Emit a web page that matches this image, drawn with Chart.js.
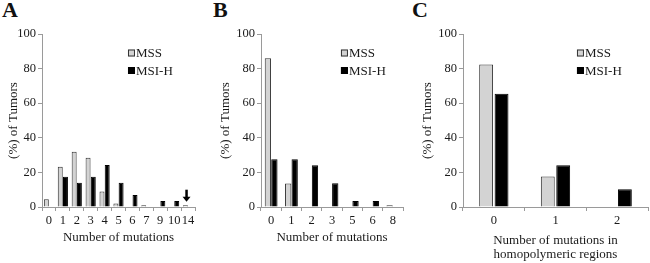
<!DOCTYPE html>
<html>
<head>
<meta charset="utf-8">
<script src="https://cdn.jsdelivr.net/npm/chart.js@4"></script>
<style>
  body { margin: 0; background: #fff; }
  #wrap { position: relative; width: 650px; height: 263px; overflow: hidden; }
  canvas { position: absolute; top: 0; }
  .letter { position: absolute; top: -3px; font: bold 22px "Liberation Serif", serif; color: #111; }
</style>
</head>
<body>
<div id="wrap">
  <div class="letter" style="left:2px">A</div>
  <div class="letter" style="left:213px">B</div>
  <div class="letter" style="left:412px">C</div>
  <canvas id="chartA" width="200" height="263" style="left:0px"></canvas>
  <canvas id="chartB" width="196" height="263" style="left:212px"></canvas>
  <canvas id="chartC" width="236" height="263" style="left:414px"></canvas>
</div>
<script>
// Panel A - number of mutations
const catsA = ['0', '1', '2', '3', '4', '5', '6', '7', '9', '10', '14'];
const mssA = [4.5, 23.3, 32, 28.5, 9, 2, 0, 1, 0, 0, 1];
const msiA = [0, 17.5, 14, 17.5, 24.3, 14, 7, 0, 3.5, 3.5, 0];
const arrowA = { category: '14', from: 10, to: 3 };

// Panel B - number of mutations
const catsB = ['0', '1', '2', '3', '5', '6', '8'];
const mssB = [86, 13.6, 0, 0, 0, 0, 1];
const msiB = [27.6, 27.6, 24.1, 13.8, 3.4, 3.4, 0];

// Panel C - mutations in homopolymeric regions
const catsC = ['0', '1', '2'];
const mssC = [82.3, 17.7, 0];
const msiC = [65.5, 24.1, 10.3];

const seriesNames = ['MSS', 'MSI-H'];
const yTicks = [0, 20, 40, 60, 80, 100];

const serif = '"Liberation Serif", "Times New Roman", serif';
const axisColor = '#9a9a9a';
const textColor = '#1a1a1a';

// legend drawn inside the plot area, Excel style
const boxLegend = {
    id: 'boxLegend',
    afterDraw(chart, args, opts) {
        const { ctx, chartArea } = chart;
        const x = chartArea.left + opts.x * chartArea.width;
        ctx.save();
        ctx.font = '13px ' + serif;
        ctx.textBaseline = 'middle';
        chart.data.datasets.forEach((ds, i) => {
            const y = chartArea.top + opts.y + i * opts.gap;
            ctx.fillStyle = ds.backgroundColor;
            ctx.fillRect(x, y - 3.5, 7, 7);
            ctx.strokeStyle = ds.borderColor;
            ctx.lineWidth = 1;
            ctx.strokeRect(x + 0.5, y - 3, 6, 6);
            ctx.fillStyle = textColor;
            ctx.fillText(ds.label, x + 8, y + 1);
        });
        ctx.restore();
    }
};

// small down arrow marking a bar
const markArrow = {
    id: 'markArrow',
    afterDraw(chart, args, opts) {
        if (!opts.at) return;
        const { ctx } = chart;
        const xs = chart.scales.x, ys = chart.scales.y;
        const x = xs.getPixelForValue(xs.getLabels().indexOf(opts.at.category)) - 1.5;
        const y1 = ys.getPixelForValue(opts.at.from);
        const y2 = ys.getPixelForValue(opts.at.to);
        ctx.save();
        ctx.strokeStyle = '#000';
        ctx.fillStyle = '#000';
        ctx.lineWidth = 2.5;
        ctx.beginPath();
        ctx.moveTo(x, y1);
        ctx.lineTo(x, y2 - 4);
        ctx.stroke();
        ctx.beginPath();
        ctx.moveTo(x - 4, y2 - 5);
        ctx.lineTo(x + 4, y2 - 5);
        ctx.lineTo(x, y2);
        ctx.closePath();
        ctx.fill();
        ctx.restore();
    }
};

function makeChart(id, cats, mss, msi, cfg) {
    const ctx = document.getElementById(id).getContext('2d');
    return new Chart(ctx, {
        type: 'bar',
        data: {
            labels: cats,
            datasets: [
                {
                    label: seriesNames[0],
                    data: mss,
                    backgroundColor: '#d3d3d3',
                    borderColor: '#333333',
                    borderWidth: 1,
                    borderSkipped: 'bottom',
                    categoryPercentage: cfg.catPct,
                    barPercentage: cfg.barPct
                },
                {
                    label: seriesNames[1],
                    data: msi,
                    backgroundColor: '#000000',
                    borderColor: '#000000',
                    borderWidth: 1,
                    borderSkipped: 'bottom',
                    categoryPercentage: cfg.catPct,
                    barPercentage: cfg.barPct
                }
            ]
        },
        options: {
            responsive: false,
            animation: false,
            layout: {
                padding: { top: 34, right: cfg.padRight, left: 0, bottom: 0 }
            },
            scales: {
                x: {
                    ticks: {
                        color: textColor,
                        font: { family: serif, size: 12.5 },
                        padding: 2,
                        autoSkip: false,
                        maxRotation: 0
                    },
                    grid: {
                        offset: true,
                        drawOnChartArea: false,
                        tickLength: 4,
                        color: axisColor
                    },
                    border: { color: axisColor },
                    title: {
                        display: true,
                        text: cfg.xTitle,
                        color: textColor,
                        font: { family: serif, size: 13, lineHeight: 1.1 },
                        padding: { top: 0, bottom: cfg.xTitlePad }
                    },
                    afterFit(scale) { scale.height = 56; }
                },
                y: {
                    min: 0,
                    max: 100,
                    afterBuildTicks(scale) {
                        scale.ticks = yTicks.map(v => ({ value: v }));
                    },
                    ticks: {
                        color: textColor,
                        font: { family: serif, size: 12.5 },
                        padding: 2
                    },
                    grid: {
                        drawOnChartArea: false,
                        tickLength: 4,
                        color: axisColor
                    },
                    border: { color: axisColor },
                    title: {
                        display: true,
                        text: '(%) of Tumors',
                        color: textColor,
                        font: { family: serif, size: 13 },
                        padding: { top: 6, bottom: 0 }
                    },
                    afterFit(scale) { scale.width = cfg.yWidth; }
                }
            },
            plugins: {
                legend: { display: false },
                tooltip: { enabled: false },
                boxLegend: { x: cfg.legendX, y: 19, gap: 17.5 },
                markArrow: { at: cfg.arrow || null }
            }
        },
        plugins: [boxLegend, markArrow]
    });
}

makeChart('chartA', catsA, mssA, msiA, {
    catPct: 0.75, barPct: 0.95, padRight: 5, yWidth: 42,
    xTitle: 'Number of mutations', xTitlePad: 18, legendX: 0.562, arrow: arrowA
});
makeChart('chartB', catsB, mssB, msiB, {
    catPct: 0.64, barPct: 0.97, padRight: 5, yWidth: 49,
    xTitle: 'Number of mutations', xTitlePad: 18, legendX: 0.563
});
makeChart('chartC', catsC, mssC, msiC, {
    catPct: 0.5, barPct: 0.9, padRight: 2, yWidth: 49,
    xTitle: ['Number of mutations in', 'homopolymeric regions'], xTitlePad: 1, legendX: 0.616
});
</script>
</body>
</html>
